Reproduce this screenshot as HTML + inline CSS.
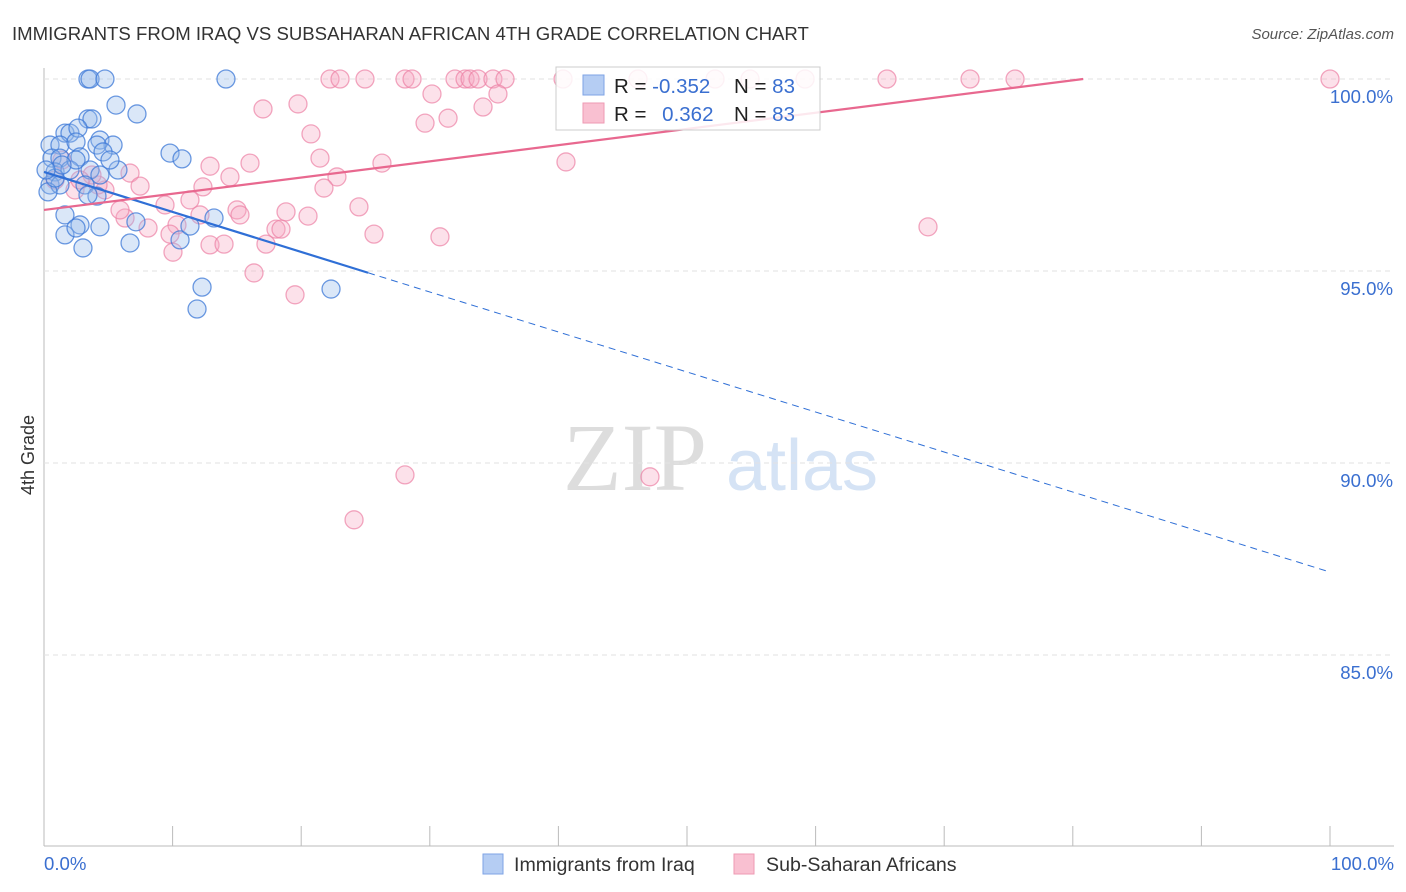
<!DOCTYPE html>
<html><head><meta charset="utf-8"><style>
body{margin:0;background:#fff;font-family:"Liberation Sans",sans-serif;}
svg{display:block}
</style></head><body>
<svg id="chart" width="1406" height="892">
<text x="12" y="40" font-size="18.6" fill="#333">IMMIGRANTS FROM IRAQ VS SUBSAHARAN AFRICAN 4TH GRADE CORRELATION CHART</text>
<text x="1394" y="39" font-size="15" fill="#555" font-style="italic" text-anchor="end">Source: ZipAtlas.com</text>
<text x="34" y="455" font-size="18" fill="#333" transform="rotate(-90 34 455)" text-anchor="middle">4th Grade</text>
<g><text x="635" y="490" font-size="96" fill="#ddd" font-family="Liberation Serif" text-anchor="middle">ZIP</text><text x="802" y="490" font-size="72" fill="#d5e3f5" text-anchor="middle">atlas</text></g>
<g id="grid"></g><g id="pts"></g><g id="lines"></g>
<g>
<rect x="556" y="67" width="264" height="63" fill="rgba(255,255,255,0.85)" stroke="#ccc"/>
<rect x="583" y="75" width="21" height="20" fill="#b5cdf3" stroke="#7ea3e6"/>
<rect x="583" y="103" width="21" height="20" fill="#f9c0d1" stroke="#ee9ab3"/>
<text x="614" y="93" font-size="20.5" fill="#222">R = <tspan fill="#3a6fd0">-0.352</tspan></text>
<text x="734" y="93" font-size="20.5" fill="#222">N = <tspan fill="#3a6fd0">83</tspan></text>
<text x="614" y="121" font-size="20.5" fill="#222">R = <tspan fill="#3a6fd0" dx="10">0.362</tspan></text>
<text x="734" y="121" font-size="20.5" fill="#222">N = <tspan fill="#3a6fd0">83</tspan></text>
</g>
<g>
<rect x="483" y="854" width="20" height="20" fill="#b5cdf3" stroke="#7ea3e6"/>
<text x="514" y="871" font-size="19.6" fill="#333">Immigrants from Iraq</text>
<rect x="734" y="854" width="20" height="20" fill="#f9c0d1" stroke="#ee9ab3"/>
<text x="766" y="871" font-size="19.6" fill="#333">Sub-Saharan Africans</text>
</g>
</svg>
<script>
const yTicks=[100,95,90,85];
const yTickLabels=["100.0%","95.0%","90.0%","85.0%"];
const xTickLabels=["0.0%","100.0%"];
const blueX=[3.42,3.58,4.74,14.15,5.6,7.23,3.42,3.73,1.63,2.02,2.64,0.47,1.24,2.49,4.35,5.37,4.12,9.8,10.73,0.62,1.24,2.8,4.59,5.75,0.86,2.02,3.58,4.35,0.47,1.24,3.19,4.12,3.42,1.63,2.8,4.35,1.63,2.49,7.15,6.69,3.03,10.58,11.35,13.22,12.29,11.9,22.32,0.31,0.86,5.13,2.49,1.4,0.16];
const blueY=[100,100,100,100,99.32,99.09,98.96,98.96,98.59,98.59,98.72,98.28,98.28,98.36,98.41,98.28,98.28,98.07,97.92,97.94,97.94,97.97,98.1,97.63,97.58,97.63,97.63,97.5,97.24,97.24,97.24,96.95,96.98,96.46,96.2,96.15,95.94,96.12,96.28,95.73,95.6,95.81,96.17,96.38,94.58,94.01,94.53,97.06,97.42,97.89,97.89,97.76,97.63];
const pinkX=[22.24,23.02,24.96,28.07,28.62,31.96,32.74,33.13,33.75,34.91,35.85,40.36,46.19,52.18,54.9,59.18,65.55,72.01,75.51,100,17.03,19.75,30.17,35.3,34.14,29.63,31.42,20.76,21.46,26.28,40.59,16.02,12.91,14.46,22.78,21.77,12.36,11.35,9.41,6.3,8.09,10.34,10.03,12.91,14.0,15.01,15.24,18.82,20.53,18.04,18.43,17.26,16.33,19.52,25.66,24.49,30.79,68.74,28.07,47.12,24.11,6.69,7.47,4.74,4.2,2.41,3.73,1.4,0.86,9.8,12.13,5.91,2.8];
const pinkY=[100,100,100,100,100,100,100,100,100,100,100,100,100,100,100,100,100,100,100,100,99.22,99.35,99.61,99.61,99.27,98.85,98.98,98.57,97.94,97.81,97.84,97.81,97.73,97.45,97.45,97.16,97.19,96.85,96.72,96.38,96.12,96.2,95.49,95.68,95.7,96.59,96.46,96.54,96.43,96.09,96.09,95.7,94.95,94.38,95.96,96.67,95.89,96.15,89.69,89.64,88.52,97.55,97.21,97.11,97.24,97.11,97.5,97.89,97.37,95.96,96.46,96.59,97.37];
const blueFit=[97.58,87.16];
const pinkFit=[96.59,100.81];
const blueSolidEnd=25.2;
const X=p=>44+p*12.86, Y=v=>79+(100-v)*38.4;
const NS="http://www.w3.org/2000/svg";
function mk(t,a,parent){const e=document.createElementNS(NS,t);for(const k in a)e.setAttribute(k,a[k]);parent.appendChild(e);return e;}
const grid=document.getElementById('grid');
mk('line',{x1:44,y1:68,x2:44,y2:846,stroke:'#bbb'},grid);
mk('line',{x1:44,y1:846,x2:1394,y2:846,stroke:'#bbb'},grid);
yTicks.forEach((v,i)=>{
 const l=mk('line',{x1:44,y1:Y(v),x2:1394,y2:Y(v),stroke:'#e2e2e2','stroke-dasharray':'5,4'},grid);
 
 
 const t=mk('text',{x:1393,y:Y(v)+24,'font-size':18.6,fill:'#3a6fd0','text-anchor':'end'},grid);t.textContent=yTickLabels[i];
 
 
});
for(let i=0;i<=10;i++){const l=mk('line',{x1:X(i*10),y1:826,x2:X(i*10),y2:846,stroke:'#bbb'},grid);
 
 }
[[0,'start',44],[1,'end',1394]].forEach(([i,a,x])=>{const t=mk('text',{x:x,y:870,'font-size':18.6,fill:'#3a6fd0','text-anchor':a},grid);t.textContent=xTickLabels[i];
 
 });
const pts=document.getElementById('pts');
pinkX.forEach((x,i)=>{const c=mk('circle',{cx:X(x),cy:Y(pinkY[i]),r:9,fill:'rgba(246,170,195,0.35)',stroke:'rgba(236,130,165,0.7)','stroke-width':1.3},pts);
 
 });
blueX.forEach((x,i)=>{const c=mk('circle',{cx:X(x),cy:Y(blueY[i]),r:9,fill:'rgba(150,185,235,0.35)',stroke:'rgba(60,120,215,0.75)','stroke-width':1.3},pts);
 
 });
const lines=document.getElementById('lines');
const bf=p=>blueFit[0]+(blueFit[1]-blueFit[0])*p/100;
let l1=mk('line',{x1:X(0),y1:Y(bf(0)),x2:X(blueSolidEnd),y2:Y(bf(blueSolidEnd)),stroke:'#2f6fd6','stroke-width':2.2},lines);


let l2=mk('line',{x1:X(blueSolidEnd),y1:Y(bf(blueSolidEnd)),x2:X(100),y2:Y(bf(100)),stroke:'#2f6fd6','stroke-width':1,'stroke-dasharray':'7,5'},lines);


const pEnd=Math.min(100,(100-pinkFit[0])/(pinkFit[1]-pinkFit[0])*100);
const pf=p=>pinkFit[0]+(pinkFit[1]-pinkFit[0])*p/100;
let l3=mk('line',{x1:X(0),y1:Y(pf(0)),x2:X(pEnd),y2:Y(pf(pEnd)),stroke:'#e8688f','stroke-width':2.2},lines);


</script>
</body></html>
